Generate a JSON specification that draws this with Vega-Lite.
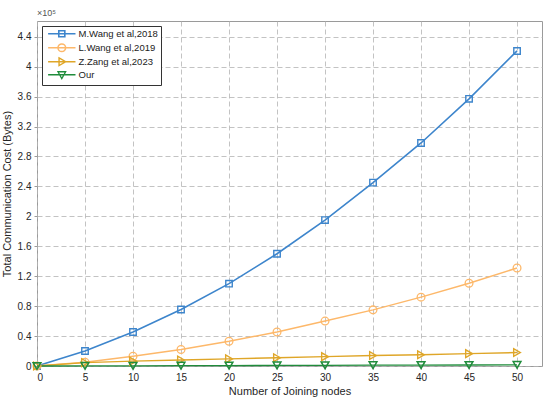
{
  "$schema": "https://vega.github.io/schema/vega-lite/v6.json",
  "width": 505,
  "height": 345,
  "autosize": "none",
  "padding": {"left": 37, "top": 21, "right": 8, "bottom": 35},
  "background": "white",
  "title": {
    "text": "×10⁵",
    "anchor": "start",
    "frame": "group",
    "fontSize": 9,
    "fontWeight": "normal",
    "font": "Liberation Sans",
    "color": "#555555",
    "offset": 3
  },
  "data": {
    "values": [
      {"nodes": 0, "method": "M.Wang et al,2018", "cost": 0},
      {"nodes": 5, "method": "M.Wang et al,2018", "cost": 20000},
      {"nodes": 10, "method": "M.Wang et al,2018", "cost": 45500},
      {"nodes": 15, "method": "M.Wang et al,2018", "cost": 75500},
      {"nodes": 20, "method": "M.Wang et al,2018", "cost": 110000},
      {"nodes": 25, "method": "M.Wang et al,2018", "cost": 150000},
      {"nodes": 30, "method": "M.Wang et al,2018", "cost": 195000},
      {"nodes": 35, "method": "M.Wang et al,2018", "cost": 245000},
      {"nodes": 40, "method": "M.Wang et al,2018", "cost": 298000},
      {"nodes": 45, "method": "M.Wang et al,2018", "cost": 357000},
      {"nodes": 50, "method": "M.Wang et al,2018", "cost": 421000},
      {"nodes": 0, "method": "L.Wang et al,2019", "cost": 0},
      {"nodes": 5, "method": "L.Wang et al,2019", "cost": 5000},
      {"nodes": 10, "method": "L.Wang et al,2019", "cost": 13000},
      {"nodes": 15, "method": "L.Wang et al,2019", "cost": 22000},
      {"nodes": 20, "method": "L.Wang et al,2019", "cost": 33000},
      {"nodes": 25, "method": "L.Wang et al,2019", "cost": 45500},
      {"nodes": 30, "method": "L.Wang et al,2019", "cost": 60000},
      {"nodes": 35, "method": "L.Wang et al,2019", "cost": 75000},
      {"nodes": 40, "method": "L.Wang et al,2019", "cost": 92000},
      {"nodes": 45, "method": "L.Wang et al,2019", "cost": 110500},
      {"nodes": 50, "method": "L.Wang et al,2019", "cost": 131000},
      {"nodes": 0, "method": "Z.Zang et al,2023", "cost": 0},
      {"nodes": 5, "method": "Z.Zang et al,2023", "cost": 4500},
      {"nodes": 10, "method": "Z.Zang et al,2023", "cost": 6500},
      {"nodes": 15, "method": "Z.Zang et al,2023", "cost": 8000},
      {"nodes": 20, "method": "Z.Zang et al,2023", "cost": 9500},
      {"nodes": 25, "method": "Z.Zang et al,2023", "cost": 11000},
      {"nodes": 30, "method": "Z.Zang et al,2023", "cost": 12500},
      {"nodes": 35, "method": "Z.Zang et al,2023", "cost": 14000},
      {"nodes": 40, "method": "Z.Zang et al,2023", "cost": 15000},
      {"nodes": 45, "method": "Z.Zang et al,2023", "cost": 16500},
      {"nodes": 50, "method": "Z.Zang et al,2023", "cost": 18000},
      {"nodes": 0, "method": "Our", "cost": 0},
      {"nodes": 5, "method": "Our", "cost": 150},
      {"nodes": 10, "method": "Our", "cost": 300},
      {"nodes": 15, "method": "Our", "cost": 450},
      {"nodes": 20, "method": "Our", "cost": 600},
      {"nodes": 25, "method": "Our", "cost": 750},
      {"nodes": 30, "method": "Our", "cost": 900},
      {"nodes": 35, "method": "Our", "cost": 1050},
      {"nodes": 40, "method": "Our", "cost": 1200},
      {"nodes": 45, "method": "Our", "cost": 1350},
      {"nodes": 50, "method": "Our", "cost": 1500}
    ]
  },
  "encoding": {
    "x": {
      "field": "nodes",
      "type": "quantitative",
      "scale": {"domain": [0, 52.6], "nice": false, "zero": false},
      "axis": {
        "values": [0, 5, 10, 15, 20, 25, 30, 35, 40, 45, 50],
        "title": "Number of Joining nodes",
        "labelPadding": 3,
        "titlePadding": 3
      }
    },
    "y": {
      "field": "cost",
      "type": "quantitative",
      "scale": {"domain": [0, 461000], "nice": false},
      "axis": {
        "values": [0, 40000, 80000, 120000, 160000, 200000, 240000, 280000, 320000, 360000, 400000, 440000],
        "labelExpr": "format(datum.value / 100000, '.1~f')",
        "title": "Total Communication Cost (Bytes)",
        "labelPadding": 3,
        "titlePadding": 5
      }
    },
    "color": {
      "field": "method",
      "type": "nominal",
      "scale": {
        "domain": ["M.Wang et al,2018", "L.Wang et al,2019", "Z.Zang et al,2023", "Our"],
        "range": ["#3d85cc", "#fdb86a", "#dfa628", "#1f8c3b"]
      },
      "legend": {
        "orient": "top-left",
        "offset": 5,
        "title": null,
        "fillColor": "white",
        "strokeColor": "#333333",
        "padding": 3,
        "rowPadding": 0,
        "labelFontSize": 9.5,
        "labelFont": "Liberation Sans",
        "labelColor": "#222222",
        "symbolSize": 30,
        "symbolStrokeWidth": 1.5,
        "symbolFillColor": "transparent",
        "labelOffset": 24,
        "encode": {
          "symbols": {
            "update": {
              "fill": {"value": "transparent"},
              "shape": {
                "signal": "datum.value === 'M.Wang et al,2018' ? 'M-0.6,0H9.4M3.3,-1.1H5.5V1.1H3.3Z' : datum.value === 'L.Wang et al,2019' ? 'M-0.6,0H9.4M5.8,0A1.4,1.4 0 1,1 3,0A1.4,1.4 0 1,1 5.8,0Z' : datum.value === 'Z.Zang et al,2023' ? 'M-0.6,0H9.4M3.4,-1.4L5.8,0L3.4,1.4Z' : 'M-0.6,0H9.4M3,-1.1H5.8L4.4,1.4Z'"
              }
            }
          }
        }
      }
    }
  },
  "layer": [
    {
      "mark": {"type": "line"},
      "encoding": {
        "strokeWidth": {
          "field": "method",
          "type": "nominal",
          "scale": {
            "domain": ["M.Wang et al,2018", "L.Wang et al,2019", "Z.Zang et al,2023", "Our"],
            "range": [1.6, 1.3, 1.8, 2]
          },
          "legend": null
        }
      }
    },
    {
      "transform": [{"filter": "datum.method === 'M.Wang et al,2018'"}],
      "mark": {"type": "point", "shape": "square", "filled": false, "opacity": 1, "strokeWidth": 1.4, "size": 42}
    },
    {
      "transform": [{"filter": "datum.method === 'L.Wang et al,2019'"}],
      "mark": {"type": "point", "shape": "circle", "filled": false, "opacity": 1, "strokeWidth": 1.3, "size": 60}
    },
    {
      "transform": [{"filter": "datum.method === 'Z.Zang et al,2023'"}],
      "mark": {"type": "point", "shape": "triangle-right", "filled": false, "opacity": 1, "strokeWidth": 1.4, "size": 60}
    },
    {
      "transform": [{"filter": "datum.method === 'Our'"}],
      "mark": {"type": "point", "shape": "triangle-down", "filled": false, "opacity": 1, "strokeWidth": 1.5, "size": 60}
    }
  ],
  "config": {
    "view": {"stroke": "#9a9a9a", "strokeWidth": 1},
    "axis": {
      "labelFont": "Liberation Sans",
      "titleFont": "Liberation Sans",
      "labelFontSize": 10,
      "titleFontSize": 11,
      "titleFontWeight": "normal",
      "labelColor": "#262626",
      "titleColor": "#262626",
      "domain": false,
      "tickSize": 3,
      "tickColor": "#9a9a9a",
      "gridColor": "#b4b4b4",
      "gridDash": [5, 3],
      "gridWidth": 0.8
    }
  }
}
